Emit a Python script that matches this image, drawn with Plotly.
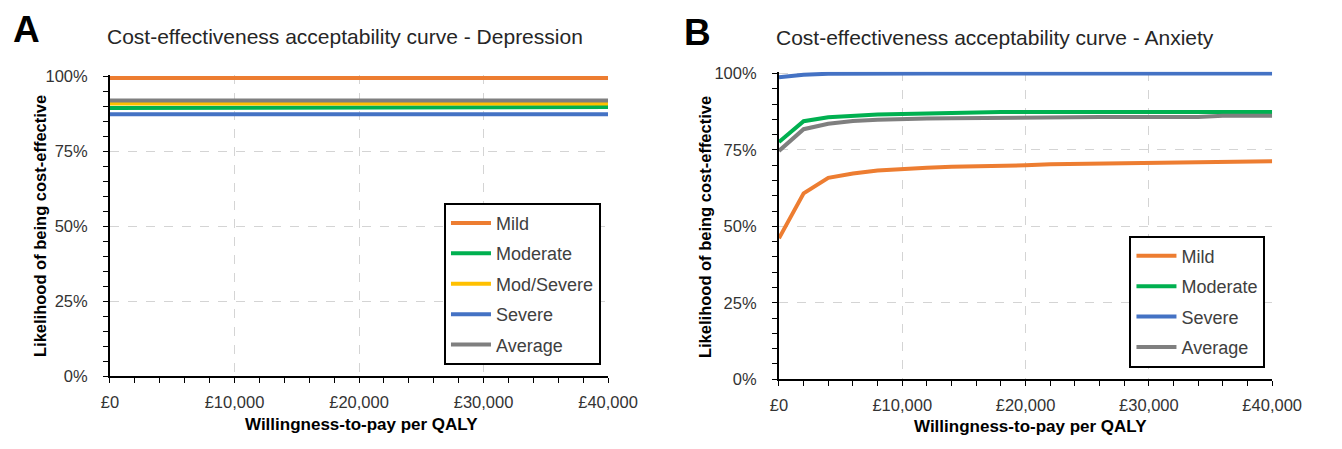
import plotly.graph_objects as go

# ---------------- data ----------------
wtp = [0, 2000, 4000, 6000, 8000, 10000, 12000, 14000, 16000, 18000, 20000,
       22000, 24000, 26000, 28000, 30000, 32000, 34000, 36000, 38000, 40000]

# Panel A - Depression (% likelihood of being cost-effective)
dep_mild = [99.5, 99.5, 99.5, 99.5, 99.5, 99.5, 99.5, 99.5, 99.5, 99.5, 99.5,
            99.5, 99.5, 99.5, 99.5, 99.5, 99.5, 99.5, 99.5, 99.5, 99.5]
dep_moderate = [89.5, 89.5, 89.5, 89.5, 89.8, 89.8, 89.8, 89.8, 89.8, 89.8, 89.8,
                89.8, 89.8, 89.8, 89.8, 89.8, 89.8, 89.8, 89.8, 89.8, 89.8]
dep_modsevere = [91.0, 91.0, 91.0, 91.0, 91.0, 91.0, 91.0, 91.0, 91.0, 91.0, 91.0,
                 91.0, 91.0, 91.0, 91.0, 91.0, 91.0, 91.0, 91.0, 91.0, 91.0]
dep_severe = [87.4, 87.4, 87.4, 87.4, 87.4, 87.4, 87.4, 87.4, 87.4, 87.4, 87.4,
              87.4, 87.4, 87.4, 87.4, 87.4, 87.4, 87.4, 87.4, 87.4, 87.4]
dep_average = [92.0, 92.0, 92.0, 92.0, 92.0, 92.0, 92.0, 92.0, 92.0, 92.0, 92.0,
               92.0, 92.0, 92.0, 92.0, 92.0, 92.0, 92.0, 92.0, 92.0, 92.0]

# Panel B - Anxiety
anx_mild = [46.1, 60.8, 65.9, 67.3, 68.3, 68.9, 69.2, 69.5, 69.6, 69.9, 70.0,
            70.3, 70.4, 70.8, 70.8, 70.9, 70.9, 70.9, 71.3, 71.3, 71.3]
anx_moderate = [77.6, 84.4, 85.7, 86.3, 86.6, 86.8, 87.0, 87.1, 87.4, 87.4, 87.4,
                87.4, 87.4, 87.4, 87.4, 87.4, 87.4, 87.4, 87.4, 87.4, 87.4]
anx_severe = [98.8, 99.6, 99.9, 100.0, 100.0, 100.0, 100.0, 100.0, 100.0, 100.0, 100.0,
              100.0, 100.0, 100.0, 100.0, 100.0, 100.0, 100.0, 100.0, 100.0, 100.0]
anx_average = [74.7, 81.8, 83.6, 84.5, 84.9, 85.2, 85.3, 85.4, 85.5, 85.6, 85.8,
               85.8, 85.8, 85.8, 85.8, 85.8, 85.8, 85.8, 86.2, 86.2, 86.2]

x_tickvals = [0, 10000, 20000, 30000, 40000]
x_ticktext = ["£0", "£10,000", "£20,000", "£30,000", "£40,000"]
y_tickvals = [0, 25, 50, 75, 100]
y_ticktext = ["0%", "25%", "50%", "75%", "100%"]

panel_a_title = "Cost-effectiveness acceptability curve - Depression"
panel_b_title = "Cost-effectiveness acceptability curve - Anxiety"
x_title = "Willingness-to-pay per QALY"
y_title = "Likelihood of being cost-effective"

# ---------------- styling ----------------
C_MILD = "#ED7D31"
C_MOD = "#00B050"
C_MODSEV = "#FFC000"
C_SEV = "#4472C4"
C_AVG = "#7F7F7F"
FONT = "Liberation Sans, Arial, sans-serif"
TXT = "#333333"
LW = 4

W, H = 1342, 449

fig = go.Figure()

series_a = [("Mild", dep_mild, C_MILD), ("Moderate", dep_moderate, C_MOD),
            ("Mod/Severe", dep_modsevere, C_MODSEV), ("Severe", dep_severe, C_SEV),
            ("Average", dep_average, C_AVG)]
series_b = [("Mild", anx_mild, C_MILD), ("Moderate", anx_moderate, C_MOD),
            ("Severe", anx_severe, C_SEV), ("Average", anx_average, C_AVG)]

for i, (name, vals, col) in enumerate(series_a):
    fig.add_trace(go.Scatter(x=wtp, y=vals, name=name, mode="lines",
                             line=dict(color=col, width=LW),
                             xaxis="x", yaxis="y", legend="legend",
                             legendgroup="a%d" % i))
for i, (name, vals, col) in enumerate(series_b):
    fig.add_trace(go.Scatter(x=wtp, y=vals, name=name, mode="lines",
                             line=dict(color=col, width=LW),
                             xaxis="x2", yaxis="y2", legend="legend2",
                             legendgroup="b%d" % i))


def px_x(p):
    return p / W


def px_y(p):
    return 1 - p / H


def xaxis_style(domain, anchor):
    return dict(domain=domain, anchor=anchor, range=[0, 40000],
                tickvals=x_tickvals, ticktext=x_ticktext,
                showline=True, linecolor="black", linewidth=1.5,
                ticks="outside", ticklen=5, tickwidth=1.2, tickcolor="black",
                minor=dict(dtick=2000, tick0=0, ticks="outside", ticklen=5,
                           tickwidth=1.2, tickcolor="black", showgrid=False),
                showgrid=True, gridcolor="#d4d4d4", gridwidth=1, griddash="dash",
                zeroline=False, ticklabelstandoff=5,
                tickfont=dict(family=FONT, size=16.5, color=TXT), fixedrange=True)


def yaxis_style(domain, anchor):
    return dict(domain=domain, anchor=anchor, range=[0, 100.6],
                tickvals=y_tickvals, ticktext=y_ticktext,
                showline=True, linecolor="black", linewidth=2,
                ticks="outside", ticklen=5, tickwidth=1.2, tickcolor="black",
                minor=dict(dtick=5, tick0=0, ticks="outside", ticklen=5,
                           tickwidth=1.2, tickcolor="black", showgrid=False),
                showgrid=True, gridcolor="#d4d4d4", gridwidth=1, griddash="dash",
                zeroline=False, ticklabelstandoff=12,
                tickfont=dict(family=FONT, size=16.5, color=TXT), fixedrange=True)


# plot-area geometry (pixels)
ax_l, ax_r = 104, 617
bx_l, bx_r = 793, 1301
ay_top, ay_bot = 70.1, 383
by_top, by_bot = 67.1, 386

legend_common = dict(bgcolor="white", bordercolor="black", borderwidth=2,
                     font=dict(family=FONT, size=18, color="#404040"),
                     tracegroupgap=4, xanchor="left", yanchor="top",
                     itemwidth=40, traceorder="grouped")

fig.update_layout(
    width=W, height=H,
    margin=dict(l=0, r=0, t=0, b=0),
    paper_bgcolor="white", plot_bgcolor="white",
    showlegend=True,
    xaxis=xaxis_style([px_x(ax_l), px_x(ax_r)], "y"),
    yaxis=yaxis_style([px_y(ay_bot), px_y(ay_top)], "x"),
    xaxis2=xaxis_style([px_x(bx_l), px_x(bx_r)], "y2"),
    yaxis2=yaxis_style([px_y(by_bot), px_y(by_top)], "x2"),
    legend=dict(x=px_x(448), y=px_y(203), **legend_common),
    legend2=dict(x=px_x(1154), y=px_y(237), **legend_common),
)

ann = []
# panel letters
ann.append(dict(text="<b>A</b>", x=px_x(2), y=px_y(0), xref="paper", yref="paper",
                xanchor="left", yanchor="top", showarrow=False,
                font=dict(family=FONT, size=37, color="black")))
ann.append(dict(text="<b>B</b>", x=px_x(693), y=px_y(3), xref="paper", yref="paper",
                xanchor="left", yanchor="top", showarrow=False,
                font=dict(family=FONT, size=37, color="black")))
# titles
ann.append(dict(text=panel_a_title, x=px_x(346), y=px_y(31), xref="paper", yref="paper",
                xanchor="center", yanchor="middle", showarrow=False,
                font=dict(family=FONT, size=21, color="#262626")))
ann.append(dict(text=panel_b_title, x=px_x(1016), y=px_y(32), xref="paper", yref="paper",
                xanchor="center", yanchor="middle", showarrow=False,
                font=dict(family=FONT, size=21, color="#262626")))
# axis titles
for cx, cy in ((363, 433), (1052, 435)):
    ann.append(dict(text="<b>%s</b>" % x_title, x=px_x(cx), y=px_y(cy), xref="paper",
                    yref="paper", xanchor="center", yanchor="middle", showarrow=False,
                    font=dict(family=FONT, size=17, color="black")))
for cx, cy in ((32, 227), (717, 228)):
    ann.append(dict(text="<b>%s</b>" % y_title, x=px_x(cx), y=px_y(cy), xref="paper",
                    yref="paper", xanchor="center", yanchor="middle", showarrow=False,
                    textangle=-90,
                    font=dict(family=FONT, size=16.5, color="black")))
fig.update_layout(annotations=ann)

fig.write_html("out.html")
